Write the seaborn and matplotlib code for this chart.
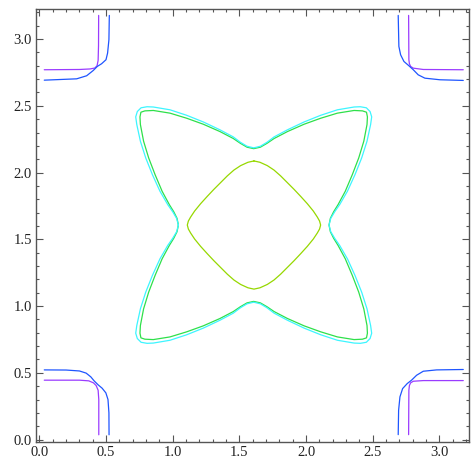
import numpy as np
import pandas as pd
import matplotlib
matplotlib.use("Agg")
import matplotlib.pyplot as plt
import seaborn as sns
from matplotlib.ticker import MultipleLocator

# contour lines, data coordinates
# inner rounded diamond
diamond_x = [1.609, 1.654, 1.709, 1.759, 1.809, 1.859, 1.909, 1.959, 2.009, 2.054, 2.084, 2.101, 2.109,
             2.101, 2.084, 2.054, 2.009, 1.959, 1.909, 1.859, 1.809, 1.759, 1.709, 1.654, 1.609,
             1.564, 1.509, 1.459, 1.409, 1.359, 1.309, 1.259, 1.209, 1.164, 1.134, 1.117, 1.109,
             1.117, 1.134, 1.164, 1.209, 1.259, 1.309, 1.359, 1.409, 1.459, 1.509, 1.564, 1.609]
diamond_y = [2.087, 2.077, 2.052, 2.019, 1.975, 1.925, 1.875, 1.822, 1.767, 1.712, 1.667, 1.637, 1.607,
             1.577, 1.547, 1.502, 1.447, 1.392, 1.339, 1.289, 1.239, 1.195, 1.162, 1.137, 1.127,
             1.137, 1.162, 1.195, 1.239, 1.289, 1.339, 1.392, 1.447, 1.502, 1.547, 1.577, 1.607,
             1.637, 1.667, 1.712, 1.767, 1.822, 1.875, 1.925, 1.975, 2.019, 2.052, 2.077, 2.087]

# green four-lobed star
green_x = [1.042, 1.032, 1.007, 0.974, 0.920, 0.867, 0.819, 0.781, 0.757, 0.754, 0.761,
           0.791, 0.854, 0.979, 1.104, 1.229, 1.354, 1.454, 1.507, 1.557, 1.607,
           1.657, 1.707, 1.760, 1.860, 1.985, 2.110, 2.235, 2.360, 2.423, 2.453,
           2.460, 2.457, 2.433, 2.395, 2.347, 2.294, 2.240, 2.207, 2.182, 2.172,
           2.182, 2.207, 2.240, 2.294, 2.347, 2.395, 2.433, 2.457, 2.460, 2.453,
           2.423, 2.360, 2.235, 2.110, 1.985, 1.860, 1.760, 1.707, 1.657, 1.607,
           1.557, 1.507, 1.454, 1.354, 1.229, 1.104, 0.979, 0.854, 0.791, 0.761,
           0.754, 0.757, 0.781, 0.819, 0.867, 0.920, 0.974, 1.007, 1.032, 1.042]
green_y = [1.607, 1.657, 1.707, 1.760, 1.860, 1.985, 2.110, 2.235, 2.360, 2.417, 2.452,
           2.462, 2.465, 2.445, 2.407, 2.362, 2.307, 2.255, 2.219, 2.190, 2.179,
           2.190, 2.219, 2.255, 2.307, 2.362, 2.407, 2.445, 2.465, 2.462, 2.452,
           2.417, 2.360, 2.235, 2.110, 1.985, 1.860, 1.760, 1.707, 1.657, 1.607,
           1.557, 1.507, 1.454, 1.354, 1.229, 1.104, 0.979, 0.854, 0.797, 0.762,
           0.752, 0.749, 0.769, 0.807, 0.852, 0.907, 0.959, 0.995, 1.024, 1.035,
           1.024, 0.995, 0.959, 0.907, 0.852, 0.807, 0.769, 0.749, 0.752, 0.762,
           0.797, 0.854, 0.979, 1.104, 1.229, 1.354, 1.454, 1.507, 1.557, 1.607]

# cyan star, just outside the green one
cyan_x = [1.042, 1.029, 0.999, 0.962, 0.904, 0.847, 0.797, 0.757, 0.730, 0.722, 0.734,
          0.762, 0.807, 0.854, 0.979, 1.104, 1.229, 1.354, 1.454, 1.507, 1.557, 1.607,
          1.657, 1.707, 1.760, 1.860, 1.985, 2.110, 2.235, 2.360, 2.407, 2.452,
          2.480, 2.492, 2.484, 2.457, 2.417, 2.367, 2.310, 2.252, 2.215, 2.185, 2.172,
          2.185, 2.215, 2.252, 2.310, 2.367, 2.417, 2.457, 2.484, 2.492, 2.480,
          2.452, 2.407, 2.360, 2.235, 2.110, 1.985, 1.860, 1.760, 1.707, 1.657, 1.607,
          1.557, 1.507, 1.454, 1.354, 1.229, 1.104, 0.979, 0.854, 0.807, 0.762,
          0.734, 0.722, 0.730, 0.757, 0.797, 0.847, 0.904, 0.962, 0.999, 1.029, 1.042]
cyan_y = [1.607, 1.657, 1.707, 1.760, 1.860, 1.985, 2.110, 2.235, 2.360, 2.417, 2.457,
          2.485, 2.493, 2.491, 2.470, 2.429, 2.379, 2.320, 2.267, 2.227, 2.197, 2.185,
          2.197, 2.227, 2.267, 2.320, 2.379, 2.429, 2.470, 2.491, 2.493, 2.485,
          2.457, 2.417, 2.360, 2.235, 2.110, 1.985, 1.860, 1.760, 1.707, 1.657, 1.607,
          1.557, 1.507, 1.454, 1.354, 1.229, 1.104, 0.979, 0.854, 0.797, 0.757,
          0.729, 0.721, 0.723, 0.744, 0.785, 0.835, 0.894, 0.947, 0.987, 1.017, 1.029,
          1.017, 0.987, 0.947, 0.894, 0.835, 0.785, 0.744, 0.723, 0.721, 0.729,
          0.757, 0.797, 0.854, 0.979, 1.104, 1.229, 1.354, 1.454, 1.507, 1.557, 1.607]

# corner pieces
bl_purple_x = [0.036, 0.30, 0.37, 0.405, 0.425, 0.440, 0.445, 0.445]
bl_purple_y = [0.445, 0.445, 0.440, 0.425, 0.405, 0.370, 0.30, 0.036]
bl_blue_x = [0.036, 0.20, 0.30, 0.35, 0.385, 0.41, 0.44, 0.47, 0.498, 0.514, 0.521, 0.522]
bl_blue_y = [0.522, 0.521, 0.514, 0.498, 0.470, 0.44, 0.41, 0.385, 0.35, 0.30, 0.20, 0.036]

tl_purple_x = [0.036, 0.30, 0.38, 0.415, 0.432, 0.440, 0.443, 0.444]
tl_purple_y = [2.770, 2.772, 2.776, 2.783, 2.800, 2.840, 2.95, 3.177]
tl_blue_x = [0.036, 0.279, 0.354, 0.404, 0.434, 0.466, 0.499, 0.511, 0.521, 0.524]
tl_blue_y = [2.692, 2.702, 2.725, 2.765, 2.795, 2.815, 2.845, 2.895, 2.995, 3.177]

tr_purple_x = [2.769, 2.771, 2.775, 2.784, 2.804, 2.879, 3.179]
tr_purple_y = [3.177, 2.845, 2.815, 2.795, 2.782, 2.772, 2.770]
tr_blue_x = [2.691, 2.696, 2.709, 2.734, 2.771, 2.804, 2.841, 2.891, 3.004, 3.179]
tr_blue_y = [3.177, 2.945, 2.882, 2.832, 2.800, 2.770, 2.732, 2.707, 2.695, 2.690]

br_purple_x = [2.769, 2.771, 2.775, 2.784, 2.804, 2.879, 3.179]
br_purple_y = [0.037, 0.370, 0.405, 0.425, 0.437, 0.442, 0.442]
br_blue_x = [2.691, 2.694, 2.704, 2.724, 2.759, 2.791, 2.829, 2.879, 2.979, 3.179]
br_blue_y = [0.037, 0.220, 0.320, 0.382, 0.420, 0.445, 0.482, 0.512, 0.522, 0.525]

curves = [
    ("diamond", "lime", diamond_x, diamond_y),
    ("green", "green", green_x, green_y),
    ("cyan", "cyan", cyan_x, cyan_y),
    ("bl_p", "purple", bl_purple_x, bl_purple_y),
    ("bl_b", "blue", bl_blue_x, bl_blue_y),
    ("tl_p", "purple", tl_purple_x, tl_purple_y),
    ("tl_b", "blue", tl_blue_x, tl_blue_y),
    ("tr_p", "purple", tr_purple_x, tr_purple_y),
    ("tr_b", "blue", tr_blue_x, tr_blue_y),
    ("br_p", "purple", br_purple_x, br_purple_y),
    ("br_b", "blue", br_blue_x, br_blue_y),
]

palette = {"purple": "#9a3cff", "blue": "#1f55ff", "cyan": "#3df5ff",
           "green": "#2ee04a", "lime": "#96d800"}

rows = []
for name, level, xs, ys in curves:
    for i, (x, y) in enumerate(zip(xs, ys)):
        rows.append({"curve": name, "level": level, "order": i, "x": x, "y": y})
df = pd.DataFrame(rows)

sns.set_style("ticks")
plt.rcParams["font.family"] = ["Liberation Serif", "DejaVu Serif"]

fig = plt.figure(figsize=(4.71, 4.62), dpi=100)
ax = fig.add_axes([36 / 471, 20 / 462, 433 / 471, 433 / 462])

sns.lineplot(data=df, x="x", y="y", hue="level", units="curve", estimator=None,
             sort=False, palette=palette, linewidth=0.9, legend=False, ax=ax)

ax.set_xlim(-0.026, 3.222)
ax.set_ylim(-0.018, 3.225)
ax.set_xlabel("")
ax.set_ylabel("")
ax.xaxis.set_major_locator(MultipleLocator(0.5))
ax.yaxis.set_major_locator(MultipleLocator(0.5))
ax.xaxis.set_minor_locator(MultipleLocator(0.1))
ax.yaxis.set_minor_locator(MultipleLocator(0.1))
ax.xaxis.set_major_formatter(plt.FuncFormatter(lambda v, p: f"{v:.1f}"))
ax.yaxis.set_major_formatter(plt.FuncFormatter(lambda v, p: f"{v:.1f}"))
ax.tick_params(which="both", direction="in", top=True, right=True, color="#555555", width=0.8)
ax.tick_params(which="major", length=5, labelsize=10.5, pad=3, labelcolor="#222222")
ax.tick_params(which="minor", length=2.5)
for s in ax.spines.values():
    s.set_color("#555555")
    s.set_linewidth(1.0)

fig.savefig("out.png", dpi=100)
